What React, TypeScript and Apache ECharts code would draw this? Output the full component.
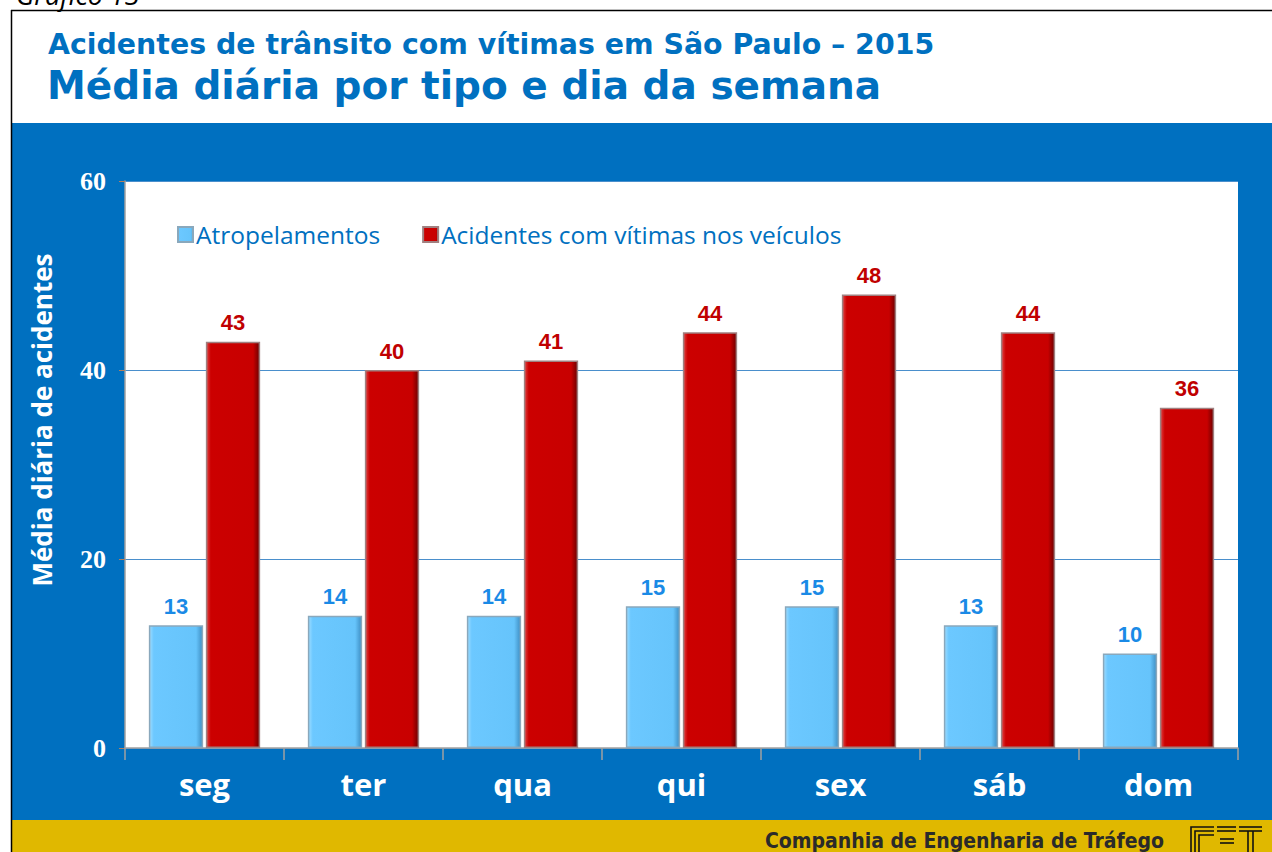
import React, { useEffect, useRef } from "react";
import * as echarts from "echarts";

const categories = ["seg", "ter", "qua", "qui", "sex", "sáb", "dom"];
const atropelamentos = [13, 14, 14, 15, 15, 13, 10];
const acidentesVeiculos = [43, 40, 41, 44, 48, 44, 36];
const seriesNames = ["Atropelamentos", "Acidentes com vítimas nos veículos"];
const yMin = 0;
const yMax = 60;
const yInterval = 20;

const titleLine1 = "Acidentes de trânsito com vítimas em São Paulo – 2015";
const titleLine2 = "Média diária por tipo e dia da semana";
const yAxisName = "Média diária de acidentes";
const footerText = "Companhia de Engenharia de Tráfego";

export default function App() {
  const ref = useRef<HTMLDivElement>(null);
  useEffect(() => {
    if (!ref.current) return;
    const chart = echarts.init(ref.current, undefined, { renderer: "svg" });
    const blueGrad = new echarts.graphic.LinearGradient(0, 0, 1, 0, [
      { offset: 0, color: "#9ddcff" },
      { offset: 0.08, color: "#6cc8ff" },
      { offset: 0.88, color: "#66c4fb" },
      { offset: 1, color: "#3f8fc4" },
    ]);
    const redGrad = new echarts.graphic.LinearGradient(0, 0, 1, 0, [
      { offset: 0, color: "#e04040" },
      { offset: 0.08, color: "#cc0000" },
      { offset: 0.88, color: "#c80000" },
      { offset: 1, color: "#6e0000" },
    ]);
    const logoStroke = { fill: "none", stroke: "#111", lineWidth: 1.6 };
    const option: any = {
      animation: false,
      backgroundColor: "#ffffff",
      graphic: [
        {
          type: "text",
          left: 16,
          top: -19,
          style: { text: "Gráfico 13", font: "italic 27px 'Open Sans'", fill: "#000" },
          z: -5,
        },
        {
          type: "line",
          shape: { x1: 11, y1: 10.5, x2: 1272, y2: 10.5 },
          style: { stroke: "#000", lineWidth: 1.5 },
          z: -5,
        },
        {
          type: "line",
          shape: { x1: 11.5, y1: 10, x2: 11.5, y2: 852 },
          style: { stroke: "#000", lineWidth: 1.5 },
          z: -5,
        },
        {
          type: "text",
          left: 48,
          top: 30,
          style: { text: titleLine1, font: "bold 28.4px 'DejaVu Sans'", fill: "#0070c0" },
          z: -5,
        },
        {
          type: "text",
          left: 47,
          top: 66,
          style: { text: titleLine2, font: "bold 39px 'DejaVu Sans'", fill: "#0070c0" },
          z: -5,
        },
        {
          type: "rect",
          shape: { x: 12, y: 123, width: 1260, height: 698 },
          style: { fill: "#0070c0" },
          z: -10,
        },
        {
          type: "rect",
          shape: { x: 12, y: 820, width: 1260, height: 32 },
          style: { fill: "#e0b800" },
          z: -10,
        },
        {
          type: "text",
          x: 42,
          y: 420,
          rotation: Math.PI / 2,
          style: {
            text: yAxisName,
            font: "bold 26px 'Open Sans'",
            fill: "#ffffff",
            align: "center",
            verticalAlign: "middle",
          },
          z: 5,
        },
        {
          type: "text",
          left: 765,
          top: 830,
          style: {
            text: footerText,
            font: "bold 21px 'DejaVu Sans Condensed', 'DejaVu Sans'",
            fill: "#2a2a2a",
          },
          z: -5,
        },
        {
          type: "group",
          x: 1190,
          y: 826,
          z: -5,
          children: [
            { type: "polyline", shape: { points: [[24, 1], [1, 1], [1, 27]] }, style: logoStroke },
            { type: "polyline", shape: { points: [[24, 5], [5, 5], [5, 27]] }, style: logoStroke },
            { type: "polyline", shape: { points: [[9, 27], [9, 9], [24, 9]] }, style: logoStroke },
            { type: "line", shape: { x1: 27, y1: 1, x2: 46, y2: 1 }, style: logoStroke },
            { type: "line", shape: { x1: 27, y1: 5, x2: 46, y2: 5 }, style: logoStroke },
            { type: "line", shape: { x1: 30, y1: 13, x2: 44, y2: 13 }, style: logoStroke },
            { type: "line", shape: { x1: 30, y1: 17, x2: 44, y2: 17 }, style: logoStroke },
            { type: "line", shape: { x1: 49, y1: 1, x2: 72, y2: 1 }, style: logoStroke },
            { type: "line", shape: { x1: 49, y1: 5, x2: 72, y2: 5 }, style: logoStroke },
            { type: "line", shape: { x1: 58, y1: 5, x2: 58, y2: 27 }, style: logoStroke },
            { type: "line", shape: { x1: 63, y1: 5, x2: 63, y2: 27 }, style: logoStroke },
          ],
        },
      ],
      legend: {
        data: seriesNames,
        left: 172,
        top: 217,
        itemWidth: 15,
        itemHeight: 15,
        itemGap: 42,
        icon: "rect",
        textStyle: { color: "#0070c0", fontSize: 24.5, fontFamily: "'Open Sans'", padding: [0, 0, 0, -2] },
      },
      grid: {
        left: 125,
        right: 34,
        top: 181,
        bottom: 104,
        show: true,
        backgroundColor: "#ffffff",
        borderWidth: 0,
      },
      xAxis: {
        type: "category",
        data: categories,
        axisLine: { lineStyle: { color: "#a0a0a0", width: 1.5 } },
        axisTick: { show: true, length: 12, lineStyle: { color: "#a0a0a0", width: 1.5 } },
        axisLabel: {
          color: "#ffffff",
          fontSize: 31,
          fontWeight: "bold",
          fontFamily: "'Open Sans'",
          margin: 20,
        },
      },
      yAxis: {
        type: "value",
        min: yMin,
        max: yMax,
        interval: yInterval,
        axisLine: { show: true, lineStyle: { color: "#a0a0a0", width: 1.5 } },
        axisTick: { show: true, length: 6, lineStyle: { color: "#b08060" } },
        axisLabel: {
          color: "#ffffff",
          fontSize: 26,
          fontWeight: "bold",
          fontFamily: "'Liberation Serif'",
          margin: 19,
        },
        splitLine: { lineStyle: { color: "#4a8fcc", width: 1.2 } },
      },
      series: [
        {
          name: seriesNames[0],
          type: "bar",
          data: atropelamentos,
          barGap: "5%",
          barCategoryGap: "30%",
          itemStyle: { color: blueGrad, borderColor: "#8aa8bc", borderWidth: 1.5 },
          label: {
            show: true,
            position: "top",
            distance: 8,
            color: "#1a8ae6",
            fontSize: 22,
            fontWeight: "bold",
            fontFamily: "'Liberation Sans'",
          },
        },
        {
          name: seriesNames[1],
          type: "bar",
          data: acidentesVeiculos,
          itemStyle: { color: redGrad, borderColor: "#a08080", borderWidth: 1.5 },
          label: {
            show: true,
            position: "top",
            distance: 8,
            color: "#c00000",
            fontSize: 22,
            fontWeight: "bold",
            fontFamily: "'Liberation Sans'",
          },
        },
      ],
    };
    chart.setOption(option);
    return () => chart.dispose();
  }, []);
  return (
    <div
      ref={ref}
      style={{ position: "fixed", left: 0, top: 0, width: 1272, height: 852 }}
    />
  );
}
